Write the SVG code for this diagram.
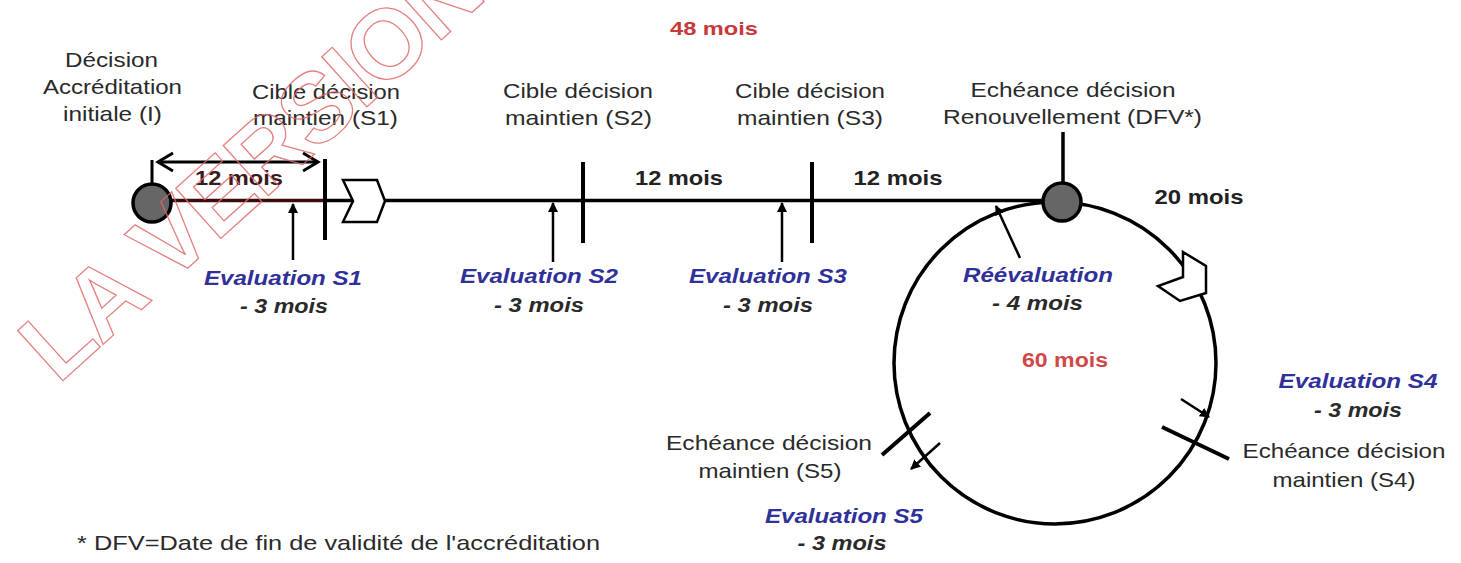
<svg xmlns="http://www.w3.org/2000/svg" width="1461" height="563" viewBox="0 0 1461 563">
<style>
text{font-family:"Liberation Sans",Arial,Helvetica,sans-serif;text-anchor:middle}
.lbl{font-size:21px;fill:#2a2a2a}
.dur{font-size:21px;font-weight:bold;fill:#222}
.red{font-weight:bold;fill:#c83838}
.ev{font-size:20px;font-style:italic;font-weight:bold;fill:#30309a}
.mn{font-size:20px;font-style:italic;font-weight:bold;fill:#2a2a2a}
.ln{stroke:#000;stroke-width:3.5;fill:none;stroke-linecap:butt}
.tick{stroke:#000;stroke-width:4;fill:none}
.ptr{stroke:#000;stroke-width:2.5;fill:none;marker-end:url(#ah)}
.node{fill:#666;stroke:#000;stroke-width:3.5}
.chev{fill:#fff;stroke:#000;stroke-width:2.5;stroke-linejoin:miter}
.wm{font-size:98px;font-weight:bold;fill:none;stroke:#e06a6a;stroke-width:1.3;stroke-opacity:0.85;text-anchor:start}
</style>
<defs>
<marker id="ah" viewBox="0 0 10 10" refX="9" refY="5" markerWidth="10" markerHeight="10" markerUnits="userSpaceOnUse" orient="auto">
<path d="M0,0 L10,5 L0,10 z" fill="#000"/>
</marker>
</defs>
<rect width="1461" height="563" fill="#fff"/>

<g id="connectors">
<line class="ln" x1="172" y1="200.5" x2="325" y2="200.5" style="stroke:#3a0c0c"/>
<line class="ln" x1="325" y1="200.5" x2="1045" y2="200.5"/>
<circle class="ln" cx="1055" cy="363" r="161"/>
<line class="ln" x1="158" y1="162" x2="318" y2="162" style="stroke-width:3"/>
<polyline points="173,153 158,162 173,171" fill="none" stroke="#000" stroke-width="3"/>
<polyline points="303,153 318,162 303,171" fill="none" stroke="#000" stroke-width="3"/>
<polygon class="chev" points="343,180 377,180 385,201 377,222 343,222 353,201"/>
<polygon class="chev" points="1183,252 1206,266 1206,293 1180,301 1158,286 1183,277"/>
<line class="ptr" x1="293" y1="260" x2="293" y2="204"/>
<line class="ptr" x1="553" y1="262" x2="553" y2="203"/>
<line class="ptr" x1="782" y1="262" x2="782" y2="203"/>
<line class="ptr" x1="1020" y1="258" x2="996" y2="206"/>
<line class="ptr" x1="1181" y1="399" x2="1209" y2="417"/>
<line class="ptr" x1="940" y1="443" x2="911" y2="469"/>
</g>

<g id="node-initial">
<line class="ln" x1="152" y1="160" x2="152" y2="185" style="stroke-width:3"/>
<circle class="node" cx="152" cy="203" r="19"/>
<text class="lbl" x="111.5" y="67" textLength="93" lengthAdjust="spacingAndGlyphs">Décision</text>
<text class="lbl" x="112.5" y="94" textLength="139" lengthAdjust="spacingAndGlyphs">Accréditation</text>
<text class="lbl" x="112.5" y="121" textLength="99" lengthAdjust="spacingAndGlyphs">initiale (I)</text>
</g>

<g id="node-s1">
<line class="tick" x1="325" y1="159" x2="325" y2="240"/>
<text class="lbl" x="326" y="99" textLength="148" lengthAdjust="spacingAndGlyphs">Cible décision</text>
<text class="lbl" x="325.5" y="125" textLength="145" lengthAdjust="spacingAndGlyphs">maintien (S1)</text>
</g>

<g id="node-s2">
<line class="tick" x1="583" y1="162" x2="583" y2="243"/>
<text class="lbl" x="578" y="98" textLength="150" lengthAdjust="spacingAndGlyphs">Cible décision</text>
<text class="lbl" x="578.5" y="125" textLength="147" lengthAdjust="spacingAndGlyphs">maintien (S2)</text>
</g>

<g id="node-s3">
<line class="tick" x1="812" y1="162" x2="812" y2="243"/>
<text class="lbl" x="810" y="98" textLength="150" lengthAdjust="spacingAndGlyphs">Cible décision</text>
<text class="lbl" x="810" y="125" textLength="146" lengthAdjust="spacingAndGlyphs">maintien (S3)</text>
</g>

<g id="node-dfv">
<line class="ln" x1="1063" y1="132" x2="1063" y2="184"/>
<circle class="node" cx="1062" cy="202" r="19"/>
<text class="lbl" x="1073" y="97" textLength="205" lengthAdjust="spacingAndGlyphs">Echéance décision</text>
<text class="lbl" x="1072.5" y="124" textLength="259" lengthAdjust="spacingAndGlyphs">Renouvellement (DFV*)</text>
</g>

<g id="node-s4">
<line class="tick" x1="1162" y1="427" x2="1229" y2="459"/>
<text class="lbl" x="1344" y="458" textLength="203" lengthAdjust="spacingAndGlyphs">Echéance décision</text>
<text class="lbl" x="1344" y="487" textLength="143" lengthAdjust="spacingAndGlyphs">maintien (S4)</text>
</g>

<g id="node-s5">
<line class="tick" x1="930" y1="413" x2="882" y2="455"/>
<text class="lbl" x="769" y="450" textLength="206" lengthAdjust="spacingAndGlyphs">Echéance décision</text>
<text class="lbl" x="770" y="478" textLength="143" lengthAdjust="spacingAndGlyphs">maintien (S5)</text>
</g>

<g id="durations">
<text class="dur" x="239" y="185" textLength="88" lengthAdjust="spacingAndGlyphs" style="fill:#3a1a1a">12 mois</text>
<text class="dur" x="679" y="185" textLength="88" lengthAdjust="spacingAndGlyphs">12 mois</text>
<text class="dur" x="898" y="185" textLength="89" lengthAdjust="spacingAndGlyphs">12 mois</text>
<text class="dur" x="1199" y="204" textLength="89" lengthAdjust="spacingAndGlyphs">20 mois</text>
<text class="red" x="714" y="35" font-size="19" textLength="88" lengthAdjust="spacingAndGlyphs">48 mois</text>
<text class="red" x="1065" y="367" font-size="20" textLength="86" lengthAdjust="spacingAndGlyphs" style="fill:#d04848">60 mois</text>
</g>

<g id="evaluations">
<text class="ev" x="283" y="285" textLength="158" lengthAdjust="spacingAndGlyphs">Evaluation S1</text>
<text class="mn" x="284" y="313" textLength="88" lengthAdjust="spacingAndGlyphs">- 3 mois</text>
<text class="ev" x="539" y="283" textLength="158" lengthAdjust="spacingAndGlyphs">Evaluation S2</text>
<text class="mn" x="539" y="312" textLength="90" lengthAdjust="spacingAndGlyphs">- 3 mois</text>
<text class="ev" x="768" y="283" textLength="158" lengthAdjust="spacingAndGlyphs">Evaluation S3</text>
<text class="mn" x="768" y="312" textLength="90" lengthAdjust="spacingAndGlyphs">- 3 mois</text>
<text class="ev" x="1038" y="282" textLength="150" lengthAdjust="spacingAndGlyphs">Réévaluation</text>
<text class="mn" x="1037.5" y="310" textLength="91" lengthAdjust="spacingAndGlyphs">- 4 mois</text>
<text class="ev" x="1358" y="388" textLength="159" lengthAdjust="spacingAndGlyphs">Evaluation S4</text>
<text class="mn" x="1358" y="417" textLength="88" lengthAdjust="spacingAndGlyphs">- 3 mois</text>
<text class="ev" x="844" y="523" textLength="158" lengthAdjust="spacingAndGlyphs">Evaluation S5</text>
<text class="mn" x="842" y="550" textLength="89" lengthAdjust="spacingAndGlyphs">- 3 mois</text>
</g>

<g id="footnote">
<text class="lbl" x="77" y="550" style="text-anchor:start" textLength="523" lengthAdjust="spacingAndGlyphs">* DFV=Date de fin de validité de l'accréditation</text>
</g>

<g id="watermark">
<text class="wm" transform="translate(58 385) rotate(-42)" x="0" y="0" textLength="580" lengthAdjust="spacing">LA VERSION</text>
</g>
</svg>
